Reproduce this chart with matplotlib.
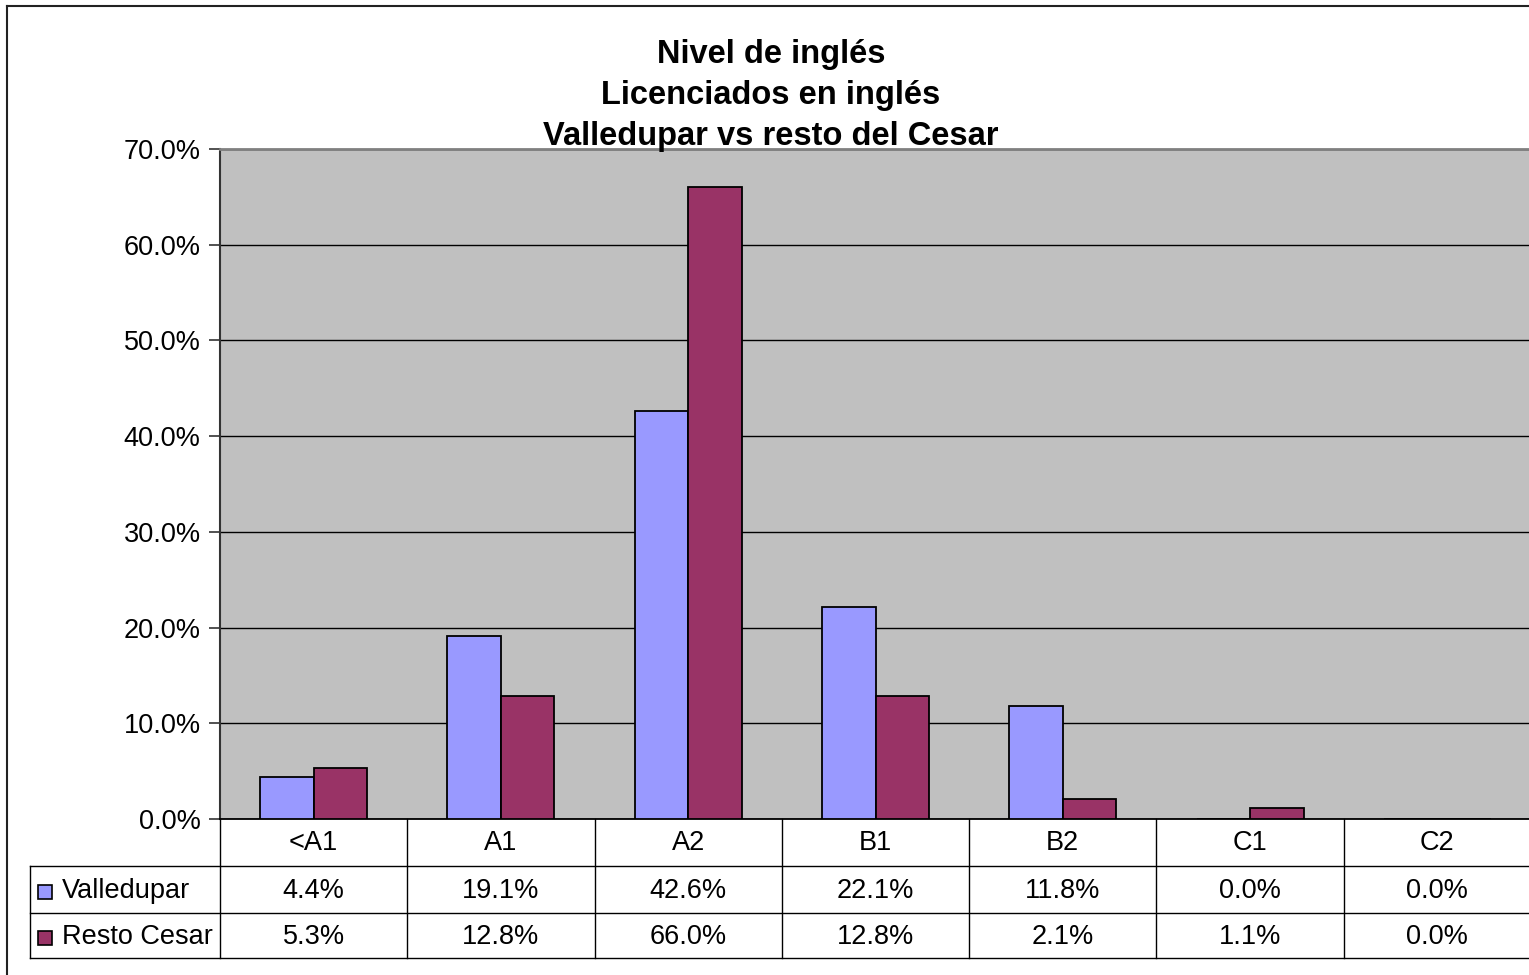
import numpy as np
import matplotlib
matplotlib.use('Agg')
import matplotlib.pyplot as plt
from matplotlib import transforms
from matplotlib.patches import Rectangle
from matplotlib.lines import Line2D

plt.rcParams['font.family'] = ['Liberation Sans', 'DejaVu Sans']

categories = ['<A1', 'A1', 'A2', 'B1', 'B2', 'C1', 'C2']
valledupar = [4.4, 19.1, 42.6, 22.1, 11.8, 0.0, 0.0]
resto_cesar = [5.3, 12.8, 66.0, 12.8, 2.1, 1.1, 0.0]
series_names = ['Valledupar', 'Resto Cesar']
series_colors = ['#9999FF', '#993366']
title = 'Nivel de inglés\nLicenciados en inglés\nValledupar vs resto del Cesar'

W, H = 1529, 975
fig = plt.figure(figsize=(W / 100, H / 100), dpi=100)
fig.patch.set_facecolor('white')

# plot area in pixel coordinates
left_px, right_px, top_px, bottom_px = 220, 1531, 149, 819
ax = fig.add_axes([left_px / W, 1 - bottom_px / H,
                   (right_px - left_px) / W, (bottom_px - top_px) / H])
ax.set_facecolor('#C0C0C0')

x = np.arange(len(categories)) + 0.5
bw = 1 / 3.5
ax.bar(x - bw / 2, valledupar, bw, color=series_colors[0], edgecolor='black', linewidth=1.3, zorder=3)
ax.bar(x + bw / 2, resto_cesar, bw, color=series_colors[1], edgecolor='black', linewidth=1.3, zorder=3)

ax.set_xlim(0, len(categories))
ax.set_ylim(0, 70)
ax.set_yticks(np.arange(0, 71, 10))
ax.set_yticklabels(['%.1f%%' % v for v in np.arange(0, 71, 10)], fontsize=19.5)
ax.set_xticks([])
ax.yaxis.grid(True, color='black', linewidth=1.0, zorder=0)
ax.set_axisbelow(True)
ax.tick_params(axis='y', length=8, width=1.2, color='#333333', pad=6)
ax.spines['left'].set_color('#333333')
ax.spines['left'].set_linewidth(1.5)
ax.spines['bottom'].set_color('black')
ax.spines['bottom'].set_linewidth(1.3)
ax.spines['top'].set_color('#808080')
ax.spines['top'].set_linewidth(2)
ax.spines['right'].set_visible(False)

# data table below the plot
cat_px = (right_px - left_px) / len(categories)
plot_h = bottom_px - top_px
trans = transforms.blended_transform_factory(ax.transData, ax.transAxes)
row_edges = [0, -(866 - 819) / plot_h, -(913 - 819) / plot_h, -(958 - 819) / plot_h]
label_x0 = (30 - left_px) / cat_px
lc = 'black'
lw = 1.0
# horizontal lines
for y in row_edges[1:]:
    ax.add_line(Line2D([label_x0, len(categories)], [y, y], transform=trans, color=lc, lw=lw, clip_on=False))
# vertical lines
for i in range(len(categories) + 1):
    ax.add_line(Line2D([i, i], [0, row_edges[-1]], transform=trans, color=lc, lw=lw, clip_on=False))
ax.add_line(Line2D([label_x0, label_x0], [row_edges[1], row_edges[-1]], transform=trans, color=lc, lw=lw, clip_on=False))

for i, c in enumerate(categories):
    ax.text(i + 0.5, (row_edges[0] + row_edges[1]) / 2, c, transform=trans,
            ha='center', va='center', fontsize=19.5)
for r, vals in enumerate([valledupar, resto_cesar]):
    yc = (row_edges[r + 1] + row_edges[r + 2]) / 2 - 2 / plot_h
    for i, v in enumerate(vals):
        ax.text(i + 0.5, yc, '%.1f%%' % v, transform=trans, ha='center', va='center', fontsize=19.5)
    # legend key + series name
    sq_w = 14 / cat_px
    sq_h = 14 / plot_h
    ax.add_patch(Rectangle((label_x0 + 8 / cat_px, yc - sq_h / 2), sq_w, sq_h, transform=trans,
                           facecolor=series_colors[r], edgecolor='black', lw=1.2, clip_on=False))
    ax.text(label_x0 + 32 / cat_px, yc, series_names[r], transform=trans,
            ha='left', va='center', fontsize=19.5)

# title
fig.text(771 / W, 1 - 39 / H, title, ha='center', va='top', fontsize=23.5,
         fontweight='bold', linespacing=1.42)

# chart border
fig.add_artist(Line2D([7.5 / W, 7.5 / W], [0, 1 - 6 / H], transform=fig.transFigure, color='#222222', lw=1.5))
fig.add_artist(Line2D([7.5 / W, 1], [1 - 6 / H, 1 - 6 / H], transform=fig.transFigure, color='#222222', lw=1.5))

fig.savefig('out.png', dpi=100)
